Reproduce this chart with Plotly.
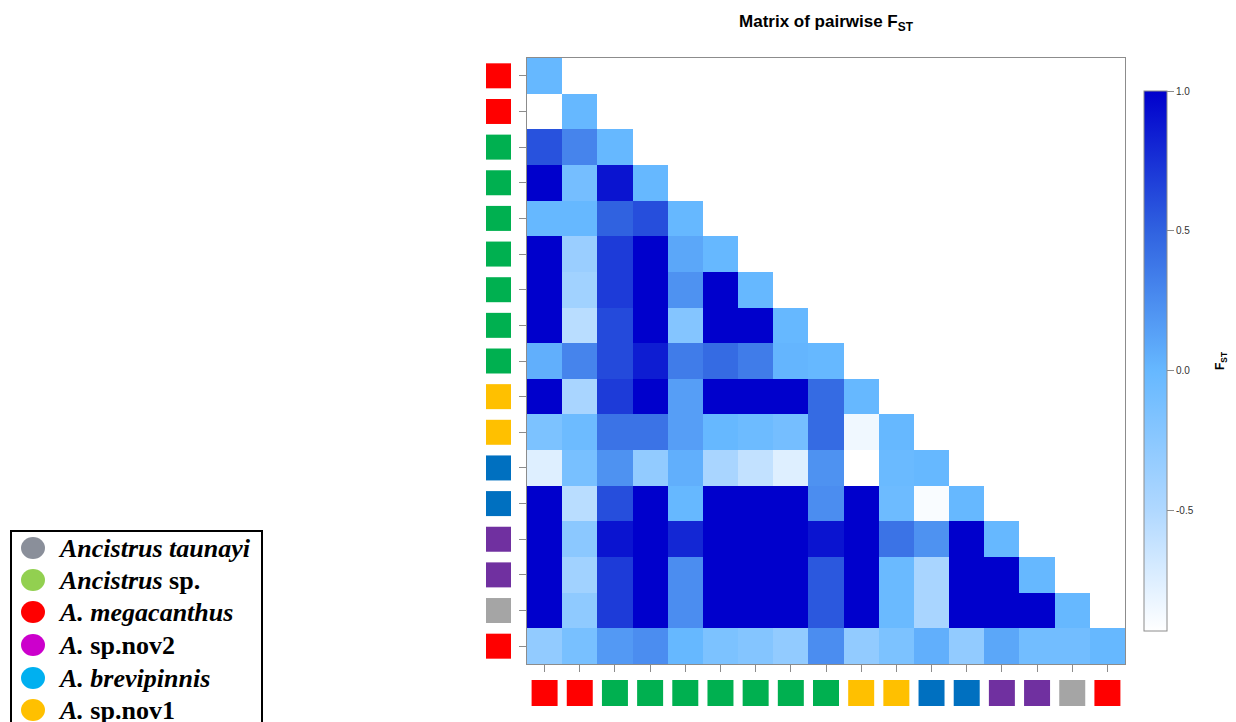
import plotly.graph_objects as go

W, H = 1236, 722

# Pairwise FST, lower triangle (row i holds columns 0..i), top row first
fst_rows = [
    [0.00],
    [-0.93, 0.00],
    [0.58, 0.30, 0.00],
    [1.00, -0.10, 0.90, 0.00],
    [0.00, 0.00, 0.50, 0.60, 0.00],
    [1.00, -0.35, 0.70, 1.00, 0.10, 0.00],
    [1.00, -0.40, 0.70, 1.00, 0.22, 1.00, 0.00],
    [1.00, -0.55, 0.62, 1.00, -0.20, 1.00, 1.00, 0.00],
    [0.05, 0.30, 0.62, 0.85, 0.35, 0.45, 0.35, 0.02, 0.00],
    [1.00, -0.45, 0.70, 1.00, 0.15, 1.00, 1.00, 1.00, 0.45, 0.00],
    [-0.15, -0.05, 0.40, 0.40, 0.15, 0.00, -0.05, -0.10, 0.45, -0.85, 0.00],
    [-0.75, -0.12, 0.22, -0.30, 0.05, -0.45, -0.60, -0.75, 0.22, -0.93, -0.03, 0.00],
    [1.00, -0.55, 0.60, 1.00, 0.00, 1.00, 1.00, 1.00, 0.25, 1.00, -0.05, -0.90, 0.00],
    [1.00, -0.25, 0.90, 1.00, 0.80, 1.00, 1.00, 1.00, 0.90, 1.00, 0.40, 0.22, 1.00, 0.00],
    [1.00, -0.40, 0.70, 1.00, 0.25, 1.00, 1.00, 1.00, 0.55, 1.00, -0.03, -0.45, 1.00, 1.00, 0.00],
    [1.00, -0.28, 0.70, 1.00, 0.25, 1.00, 1.00, 1.00, 0.55, 1.00, -0.03, -0.45, 1.00, 1.00, 1.00, 0.00],
    [-0.30, -0.12, 0.18, 0.25, 0.00, -0.15, -0.20, -0.30, 0.25, -0.30, -0.15, 0.05, -0.30, 0.10, -0.08, -0.08, 0.00],
]

# Species group of each sampled population (same order on both axes)
population_groups = [
    "megacanthus", "megacanthus",
    "green", "green", "green", "green", "green", "green", "green",
    "yellow", "yellow", "blue", "blue", "purple", "purple", "gray",
    "megacanthus",
]
group_colors = {
    "megacanthus": "#ff0000",
    "green": "#00b050",
    "yellow": "#ffc000",
    "blue": "#0070c0",
    "purple": "#7030a0",
    "gray": "#a5a5a5",
}

legend_labels = [
    "<b><i>Ancistrus taunayi</i></b>",
    "<b><i>Ancistrus</i> sp.</b>",
    "<b><i>A. megacanthus</i></b>",
    "<b><i>A.</i> sp.nov2</b>",
    "<b><i>A. brevipinnis</i></b>",
    "<b><i>A.</i> sp.nov1</b>",
]
legend_colors = ["#8a8f9a", "#92d050", "#ff0000", "#cc00cc", "#00b0f0", "#ffc000"]

colorbar_ticks = [-0.5, 0.0, 0.5, 1.0]
colorbar_ticktext = ["-0.5", "0.0", "0.5", "1.0"]

n = len(fst_rows)
z = [row + [None] * (n - len(row)) for row in fst_rows]
idx = list(range(n))
zmin, zmax = -0.93, 1.0


def norm(v):
    return (v - zmin) / (zmax - zmin)


colorscale = [
    [0.0, "#ffffff"],
    [norm(-0.5), "#b0d8ff"],
    [norm(0.0), "#66b8ff"],
    [norm(0.5), "#3062e0"],
    [1.0, "#0000cc"],
]


def px_x(x):
    return x / W


def px_y(y):
    return 1 - y / H


main_x = [px_x(527), px_x(1125)]
main_y = [px_y(664), px_y(58)]

fig = go.Figure()

fig.add_trace(go.Heatmap(
    z=z, x=idx, y=idx,
    colorscale=colorscale, zmin=zmin, zmax=zmax,
    hoverongaps=False,
    colorbar=dict(
        x=px_x(1144), xanchor="left", xpad=0,
        y=px_y(361), yanchor="middle", ypad=0,
        len=540 / H, lenmode="fraction", thickness=23, thicknessmode="pixels",
        outlinecolor="#8c8c8c", outlinewidth=1,
        tickvals=colorbar_ticks, ticktext=colorbar_ticktext,
        ticks="outside", ticklen=7, tickcolor="#8c8c8c",
        tickfont=dict(family="Liberation Sans", size=10, color="#333333"),
    ),
))

# Group colour squares under the x axis
fig.add_trace(go.Scatter(
    x=idx, y=[0.5] * n, xaxis="x2", yaxis="y2", mode="markers",
    marker=dict(symbol="square", size=26,
                color=[group_colors[g] for g in population_groups],
                line=dict(width=0)),
    showlegend=False, hoverinfo="skip", cliponaxis=False,
))
# Group colour squares left of the y axis
fig.add_trace(go.Scatter(
    x=[0.5] * n, y=idx, xaxis="x3", yaxis="y3", mode="markers",
    marker=dict(symbol="square", size=25,
                color=[group_colors[g] for g in population_groups],
                line=dict(width=0)),
    showlegend=False, hoverinfo="skip", cliponaxis=False,
))

axis_common = dict(
    showgrid=False, zeroline=False, showticklabels=False,
    ticks="outside", tickcolor="#8c8c8c", ticklen=7,
    showline=True, linecolor="#8c8c8c", linewidth=1, mirror=True,
    tickvals=idx,
)

layout_shapes = [
    dict(type="rect", xref="paper", yref="paper",
         x0=px_x(11), x1=px_x(262), y0=px_y(740), y1=px_y(531),
         line=dict(color="black", width=2), fillcolor="white", layer="below"),
]
annotations = []
legend_y = [548, 580, 612, 645, 678, 710]
for lab, col, yy in zip(legend_labels, legend_colors, legend_y):
    layout_shapes.append(dict(
        type="circle", xref="paper", yref="paper",
        x0=px_x(21), x1=px_x(45), y0=px_y(yy + 11), y1=px_y(yy - 11),
        fillcolor=col, line=dict(width=0),
    ))
    annotations.append(dict(
        text=lab, xref="paper", yref="paper", x=px_x(56), y=px_y(yy),
        xanchor="left", yanchor="middle", showarrow=False,
        font=dict(family="Liberation Serif", size=26, color="black"),
    ))

annotations.append(dict(
    text="<b>F<sub>ST</sub></b>", xref="paper", yref="paper",
    x=px_x(1221), y=px_y(361), xanchor="center", yanchor="middle",
    textangle=-90, showarrow=False,
    font=dict(family="Liberation Sans", size=12, color="black"),
))

fig.update_layout(
    width=W, height=H,
    margin=dict(l=0, r=0, t=0, b=0),
    paper_bgcolor="white", plot_bgcolor="white",
    title=dict(
        text="<b>Matrix of pairwise F<sub>ST</sub></b>",
        x=px_x(826), xanchor="center", y=px_y(21), yanchor="middle",
        font=dict(family="Liberation Sans", size=17, color="black"),
    ),
    xaxis=dict(domain=main_x, range=[-0.5, n - 0.5], **axis_common),
    yaxis=dict(domain=main_y, range=[n - 0.5, -0.5], **axis_common),
    xaxis2=dict(domain=main_x, range=[-0.5, n - 0.5], anchor="y2", visible=False),
    yaxis2=dict(domain=[0, px_y(664)], range=[0, 1], anchor="x2", visible=False),
    xaxis3=dict(domain=[px_x(470), px_x(527)], range=[0, 1], anchor="y3", visible=False),
    yaxis3=dict(domain=main_y, range=[n - 0.5, -0.5], anchor="x3", visible=False),
    shapes=layout_shapes,
    annotations=annotations,
    showlegend=False,
)

fig.write_html("out.html")
